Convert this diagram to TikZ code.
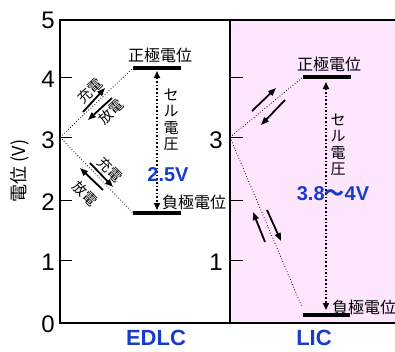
\documentclass[tikz,border=0pt]{standalone}
\usepackage{fontspec}
\setmainfont{Liberation Sans}
\newfontfamily\cjk{Noto Sans CJK JP}
\usetikzlibrary{arrows.meta}
\definecolor{lbl}{RGB}{22,60,200}
\definecolor{pinkbg}{RGB}{255,230,255}
\tikzset{
  frame/.style={line width=1.2pt},
  tickmark/.style={line width=1pt},
  bar/.style={line width=4pt},
  guide/.style={dotted, line width=0.8pt},
  cell/.style={dotted, line width=1.6pt, {Triangle[length=7pt,width=6pt]}-{Triangle[length=7pt,width=6pt]}},
  flow/.style={line width=1.8pt, -{Triangle[length=8pt,width=6pt]}},
  jp/.style={font=\cjk\fontsize{16}{16}\selectfont, inner sep=0pt},
  jpv/.style={font=\cjk\fontsize{15}{16.5}\selectfont, inner sep=0pt, align=center},
  jps/.style={font=\cjk\fontsize{14}{14}\selectfont, inner sep=0pt},
  num/.style={font=\fontsize{24}{24}\selectfont, inner sep=0pt, anchor=east},
  volt/.style={font=\bfseries\fontsize{20}{20}\selectfont, text=lbl, inner sep=0pt},
  cat/.style={font=\bfseries\fontsize{22}{22}\selectfont, text=lbl, inner sep=0pt},
}
\begin{document}
\begin{tikzpicture}[x=1pt,y=-1pt]
\useasboundingbox (0,0) rectangle (395,351);
% pink panel
\fill[pinkbg] (230,20) rectangle (395,323);
% frame
\draw[frame] (395,20) -- (60,20) -- (60,323) -- (395,323);
\draw[frame] (230,20) -- (230,323);
% ticks
\foreach \yy in {77.3,137.3,200.7,260.7}{
  \draw[tickmark] (60,\yy) -- (72,\yy);
  \draw[tickmark] (230,\yy) -- (243,\yy);
}
% tick labels
\node[num] (n5) at (55,20) {5};
\node[num] (n4) at (55,79) {4};
\node[num] (n3) at (55,140) {3};
\node[num] (n2) at (55,202) {2};
\node[num] (n1) at (55,262) {1};
\node[num] (n0) at (55,324) {0};
\node[num] (m3) at (223,140) {3};
\node[num] (m1) at (223,262) {1};
% axis title
\node[font=\cjk\fontsize{18}{18}\selectfont, rotate=90, inner sep=0pt] (ytitle) at (20,171) {電位 (V)};
% ---------- EDLC ----------
\coordinate (eo) at (60,137.3);
\coordinate (ep1) at (133,68);
\coordinate (ep2) at (181,68);
\coordinate (en1) at (133,213);
\coordinate (en2) at (181,213);
\draw[bar] (ep1) -- (ep2);
\draw[bar] (en1) -- (en2);
\draw[guide] (eo) -- (ep1);
\draw[guide] (eo) -- (en1);
\coordinate (ect) at (157,71);
\coordinate (ecb) at (157,210);
\draw[cell] (ect) -- (ecb);
\node[jp] (epl) at (160,55) {正極電位};
\node[jp, anchor=west] (enl) at (162,202) {負極電位};
\node[jpv] (ecv) at (171,120) {セ\\ル\\電\\圧};
\node[volt] (ev) at (168,175) {2.5V};
% flow arrows EDLC
\coordinate (ea1s) at (83,112); \coordinate (ea1e) at (105,88);
\coordinate (ea2s) at (112,98); \coordinate (ea2e) at (88,120);
\coordinate (ea3s) at (90,163); \coordinate (ea3e) at (113,187);
\coordinate (ea4s) at (103,190); \coordinate (ea4e) at (80,168);
\draw[flow] (ea1s) -- (ea1e);
\draw[flow] (ea2s) -- (ea2e);
\draw[flow] (ea3s) -- (ea3e);
\draw[flow] (ea4s) -- (ea4e);
\node[jps, rotate=43] (t1) at (90,91) {充電};
\node[jps, rotate=43] (t2) at (111,112) {放電};
\node[jps, rotate=-45] (t3) at (110,170) {充電};
\node[jps, rotate=-45] (t4) at (85,194) {放電};
% ---------- LIC ----------
\coordinate (lo) at (230,137.3);
\coordinate (lp1) at (303,77);
\coordinate (lp2) at (351,77);
\coordinate (ln1) at (303,315);
\coordinate (ln2) at (350,315);
\coordinate (lne) at (302,307);
\draw[bar] (lp1) -- (lp2);
\draw[bar] (ln1) -- (ln2);
\draw[guide] (lo) -- (lp1);
\draw[guide] (lo) -- (lne);
\coordinate (lct) at (326,82);
\coordinate (lcb) at (326,310);
\draw[cell] (lct) -- (lcb);
\node[jp] (lpl) at (329,64) {正極電位};
\node[jp, anchor=west] (lnl) at (332,307) {負極電位};
\node[jpv] (lcv) at (338,145) {セ\\ル\\電\\圧};
\node[volt] (lv) at (333,194) {3.8{\cjk ～}4V};
\coordinate (la1s) at (252,111); \coordinate (la1e) at (276,88);
\coordinate (la2s) at (285,100); \coordinate (la2e) at (261,125);
\coordinate (la3s) at (265,242); \coordinate (la3e) at (253,212);
\coordinate (la4s) at (267,210); \coordinate (la4e) at (281,241);
\draw[flow] (la1s) -- (la1e);
\draw[flow] (la2s) -- (la2e);
\draw[flow] (la3s) -- (la3e);
\draw[flow] (la4s) -- (la4e);
% category labels
\node[cat] (edlc) at (156,338) {EDLC};
\node[cat] (lic) at (314,338) {LIC};
\end{tikzpicture}
\end{document}
